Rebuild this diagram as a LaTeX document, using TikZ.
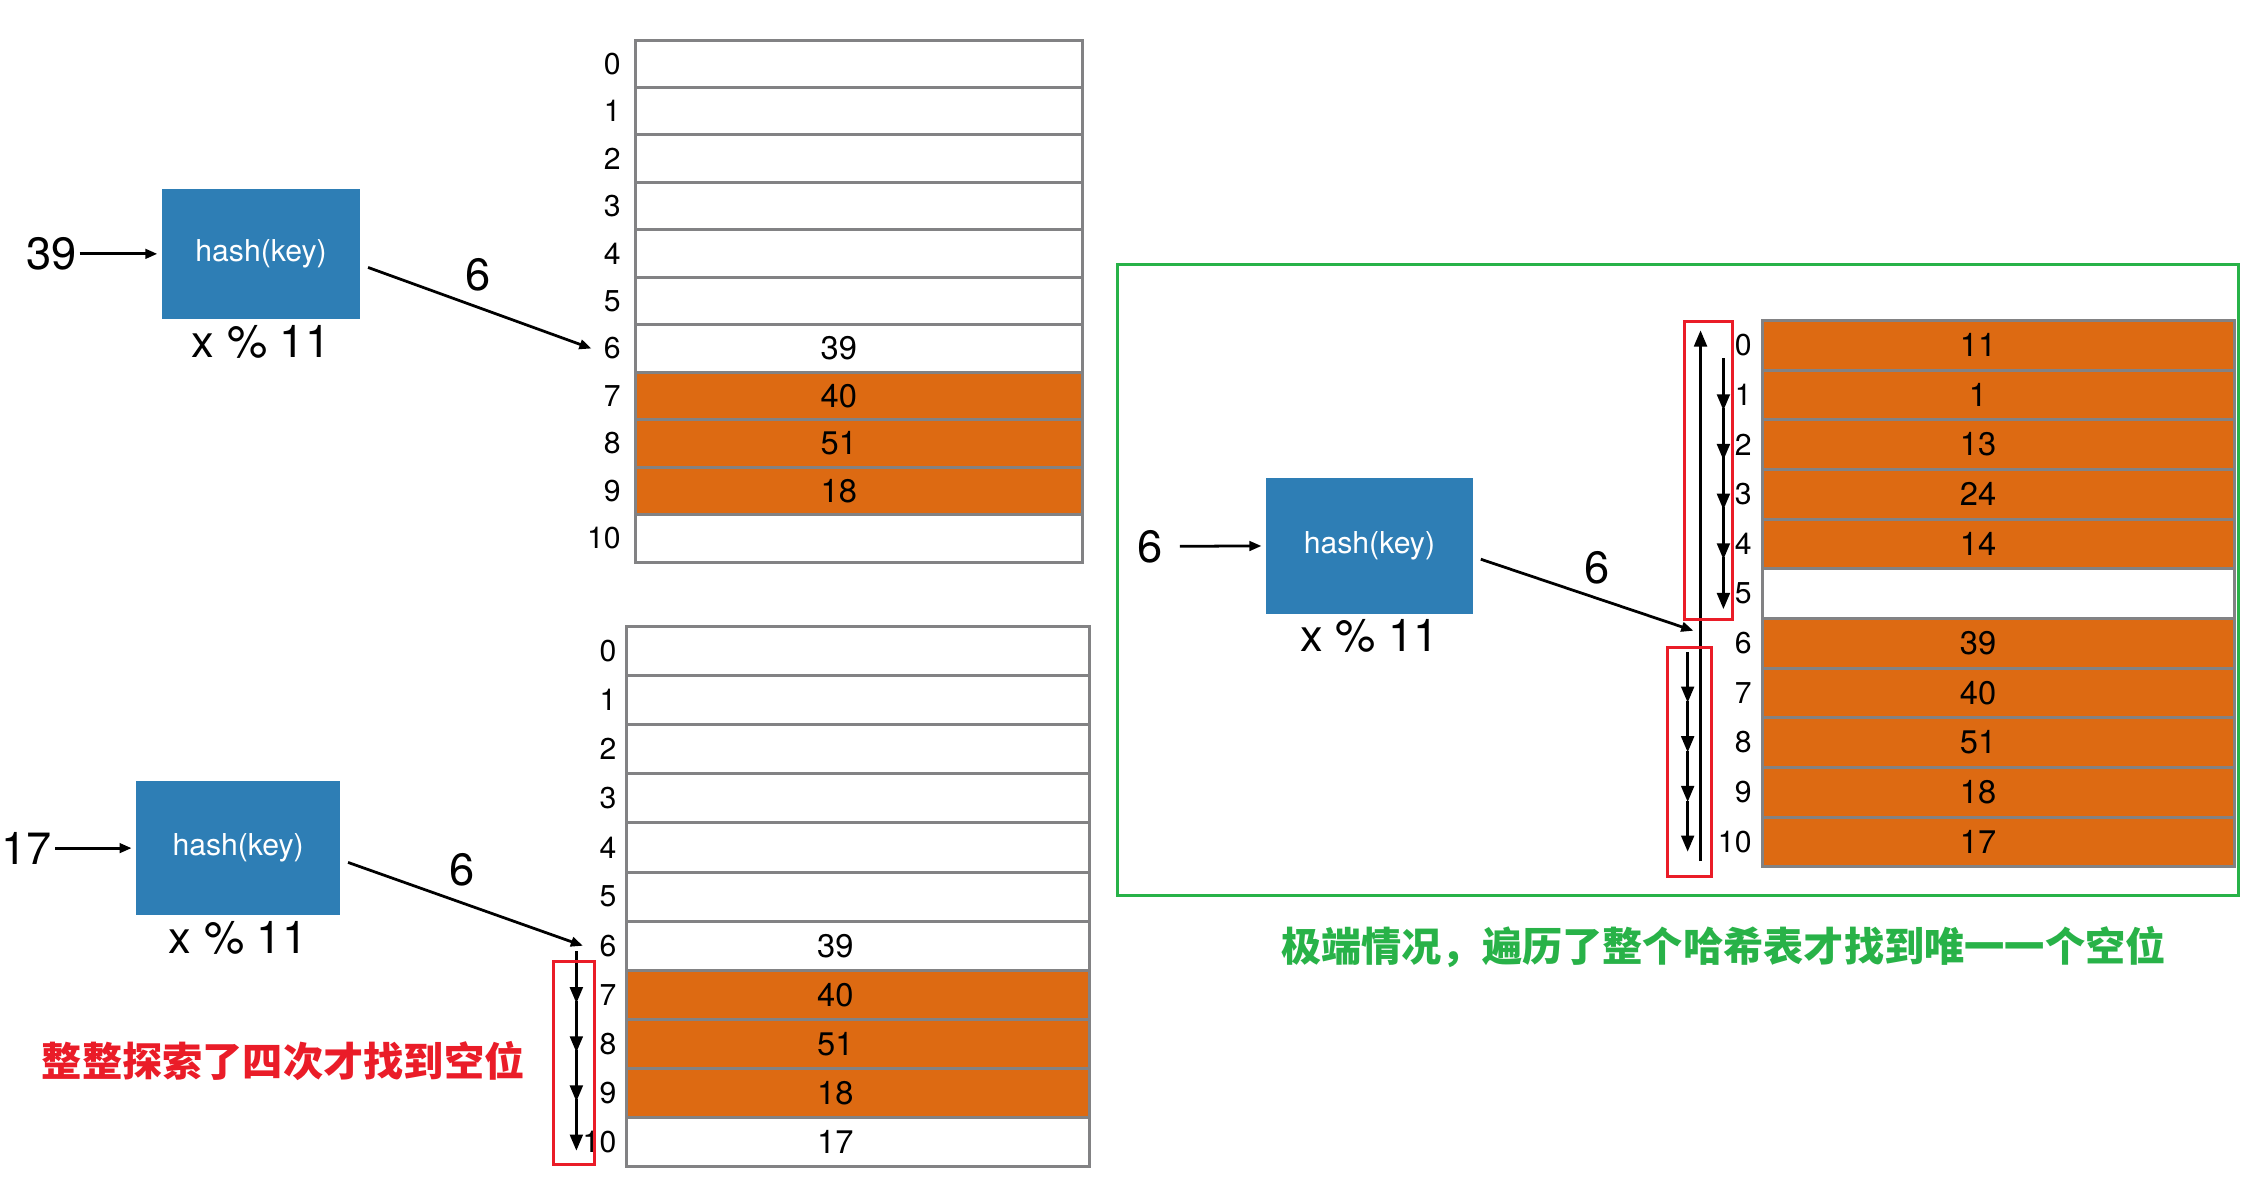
\documentclass[tikz,border=0pt]{standalone}
\usepackage{fontspec}
\setmainfont{TeX Gyre Heros}
\newfontfamily\cjk{Noto Sans CJK SC}
\usetikzlibrary{arrows.meta,positioning,calc}
\definecolor{hashblue}{RGB}{46,126,181}
\definecolor{slotorange}{RGB}{221,106,18}
\definecolor{slotgray}{RGB}{130,130,132}
\definecolor{probered}{RGB}{234,28,40}
\definecolor{casegreen}{RGB}{40,178,72}
\newcommand{\fs}[1]{\fontsize{#1}{#1}\selectfont}

\begin{document}
\begin{tikzpicture}[
    hashbox/.style={fill=hashblue, text=white, inner sep=0pt, font=\fs{12}},
    slot/.style={draw=slotgray, line width=1.2pt, inner sep=0pt},
    val/.style={font=\fs{13}, inner sep=1pt},
    idx/.style={font=\fs{12}, inner sep=1pt, anchor=east},
    big/.style={font=\fs{18}, inner sep=1pt},
    feed/.style={line width=1.1pt, -{Triangle[length=4.8pt,width=3.8pt]}},
    probe/.style={line width=1.3pt, -{Triangle[length=6.5pt,width=5pt]}},
    redbox/.style={draw=probered, line width=1.2pt},
    note/.style={font=\cjk\bfseries\fs{16}, inner sep=0pt}
]
    \useasboundingbox (0,0) rectangle (31.38,16.5);

    % --- Insert 39: slot 6 is free ---
    \node[big] (kA) at (0.72,12.95) {39};
    \node[hashbox, minimum width=2.78cm, minimum height=1.82cm] (hashA) at (3.65,12.95) {hash(key)};
    \node[big, below=1pt of hashA] (modA) {x \% 11};
    \draw[feed, shorten >=1.5pt] (kA) -- (hashA);
    \foreach \n/\v/\c in {0/{}/white,1/{}/white,2/{}/white,3/{}/white,4/{}/white,5/{}/white,
                          6/39/white,7/40/slotorange,8/51/slotorange,9/18/slotorange,10/{}/white}{
        \node[slot, fill=\c, minimum width=6.26cm, minimum height=0.664cm] (tA\n) at (12.01,{15.94-(\n+0.5)*0.6636}) {};
        \node[val] (vA\n) at ([xshift=-0.28cm]tA\n.center) {\v};
        \node[idx] (iA\n) at (8.72,{15.94-(\n+0.5)*0.6636}) {\n};
    }
    \draw[feed] ([xshift=0.1cm,yshift=-0.19cm]hashA.east) -- ([xshift=-0.13cm]iA6.west);
    \node[big] (hA) at (6.68,12.66) {6};

    % --- Insert 17: collides at 6, probes down to 10 ---
    \node[big, anchor=east] (kB) at (0.77,4.64) {17};
    \node[hashbox, minimum width=2.86cm, minimum height=1.88cm] (hashB) at (3.33,4.64) {hash(key)};
    \node[big, below=1pt of hashB] (modB) {x \% 11};
    \draw[feed, shorten >=1.5pt] (kB) -- (hashB);
    \foreach \n/\v/\c in {0/{}/white,1/{}/white,2/{}/white,3/{}/white,4/{}/white,5/{}/white,
                          6/39/white,7/40/slotorange,8/51/slotorange,9/18/slotorange,10/17/white}{
        \node[slot, fill=\c, minimum width=6.48cm, minimum height=0.687cm] (tB\n) at (12.0,{7.74-(\n+0.5)*0.687}) {};
        \node[val] (vB\n) at ([xshift=-0.32cm]tB\n.center) {\v};
        \node[idx] (iB\n) at (8.66,{7.74-(\n+0.5)*0.687}) {\n};
    }
    \draw[feed] ([xshift=0.1cm,yshift=-0.2cm]hashB.east) -- ([xshift=-0.19cm]iB6.west);
    \node[big] (hB) at (6.46,4.34) {6};
    \coordinate (pB) at (8.06,0);
    \foreach \n [evaluate=\n as \m using int(\n+1)] in {6,...,9}
        \draw[probe] ($(pB |- iB\n)+(0,-0.08)$) -- ($(pB |- iB\m)+(0,-0.12)$);
    \draw[redbox] (7.74,0.22) rectangle (8.32,3.06);
    \node[note, text=probered] (noteB) at (3.96,1.66) {整整探索了四次才找到空位};

    % --- Worst case: walk round the whole table ---
    \draw[casegreen, line width=1.2pt] (15.62,3.98) rectangle (31.3,12.8);
    \node[big] (kC) at (16.08,8.86) {6};
    \node[hashbox, minimum width=2.9cm, minimum height=1.9cm] (hashC) at (19.15,8.87) {hash(key)};
    \node[big, below=1pt of hashC] (modC) {x \% 11};
    \draw[feed, shorten <=0.2cm, shorten >=1.5pt] (kC) -- (hashC);
    \foreach \n/\v/\c in {0/11/slotorange,1/1/slotorange,2/13/slotorange,3/24/slotorange,4/14/slotorange,5/{}/white,
                          6/39/slotorange,7/40/slotorange,8/51/slotorange,9/18/slotorange,10/17/slotorange}{
        \node[slot, fill=\c, minimum width=6.6cm, minimum height=0.6945cm] (tC\n) at (27.94,{12.02-(\n+0.5)*0.6945}) {};
        \node[val] (vC\n) at ([xshift=-0.28cm]tC\n.center) {\v};
        \node[idx] (iC\n) at (24.535,{12.02-(\n+0.5)*0.6945}) {\n};
    }
    \coordinate (hitC) at (23.68,7.68);
    \draw[feed] ([xshift=0.1cm,yshift=-0.19cm]hashC.east) -- (hitC);
    \node[big] (hC) at (22.34,8.56) {6};
    % wrap back to slot 0
    \coordinate (pC) at (23.78,0);
    \draw[probe] ($(pC |- iC10)+(0,-0.27)$) -- ($(pC |- iC0)+(0,0.21)$);
    \coordinate (qC) at (24.1,0);
    \foreach \n [evaluate=\n as \m using int(\n+1)] in {0,...,4}
        \draw[probe] ($(qC |- iC\n)+(0,-0.18)$) -- ($(qC |- iC\m)+(0,-0.22)$);
    \coordinate (sC) at (23.6,0);
    \foreach \n [evaluate=\n as \m using int(\n+1)] in {6,...,9}
        \draw[probe] ($(sC |- iC\n)+(0,-0.12)$) -- ($(sC |- iC\m)+(0,-0.14)$);
    \draw[redbox] (23.56,7.84) rectangle (24.22,12.0);
    \draw[redbox] (23.32,4.24) rectangle (23.94,7.44);
    \node[note, text=casegreen] (noteC) at (24.1,3.26) {极端情况，遍历了整个哈希表才找到唯一一个空位};
\end{tikzpicture}
\end{document}
